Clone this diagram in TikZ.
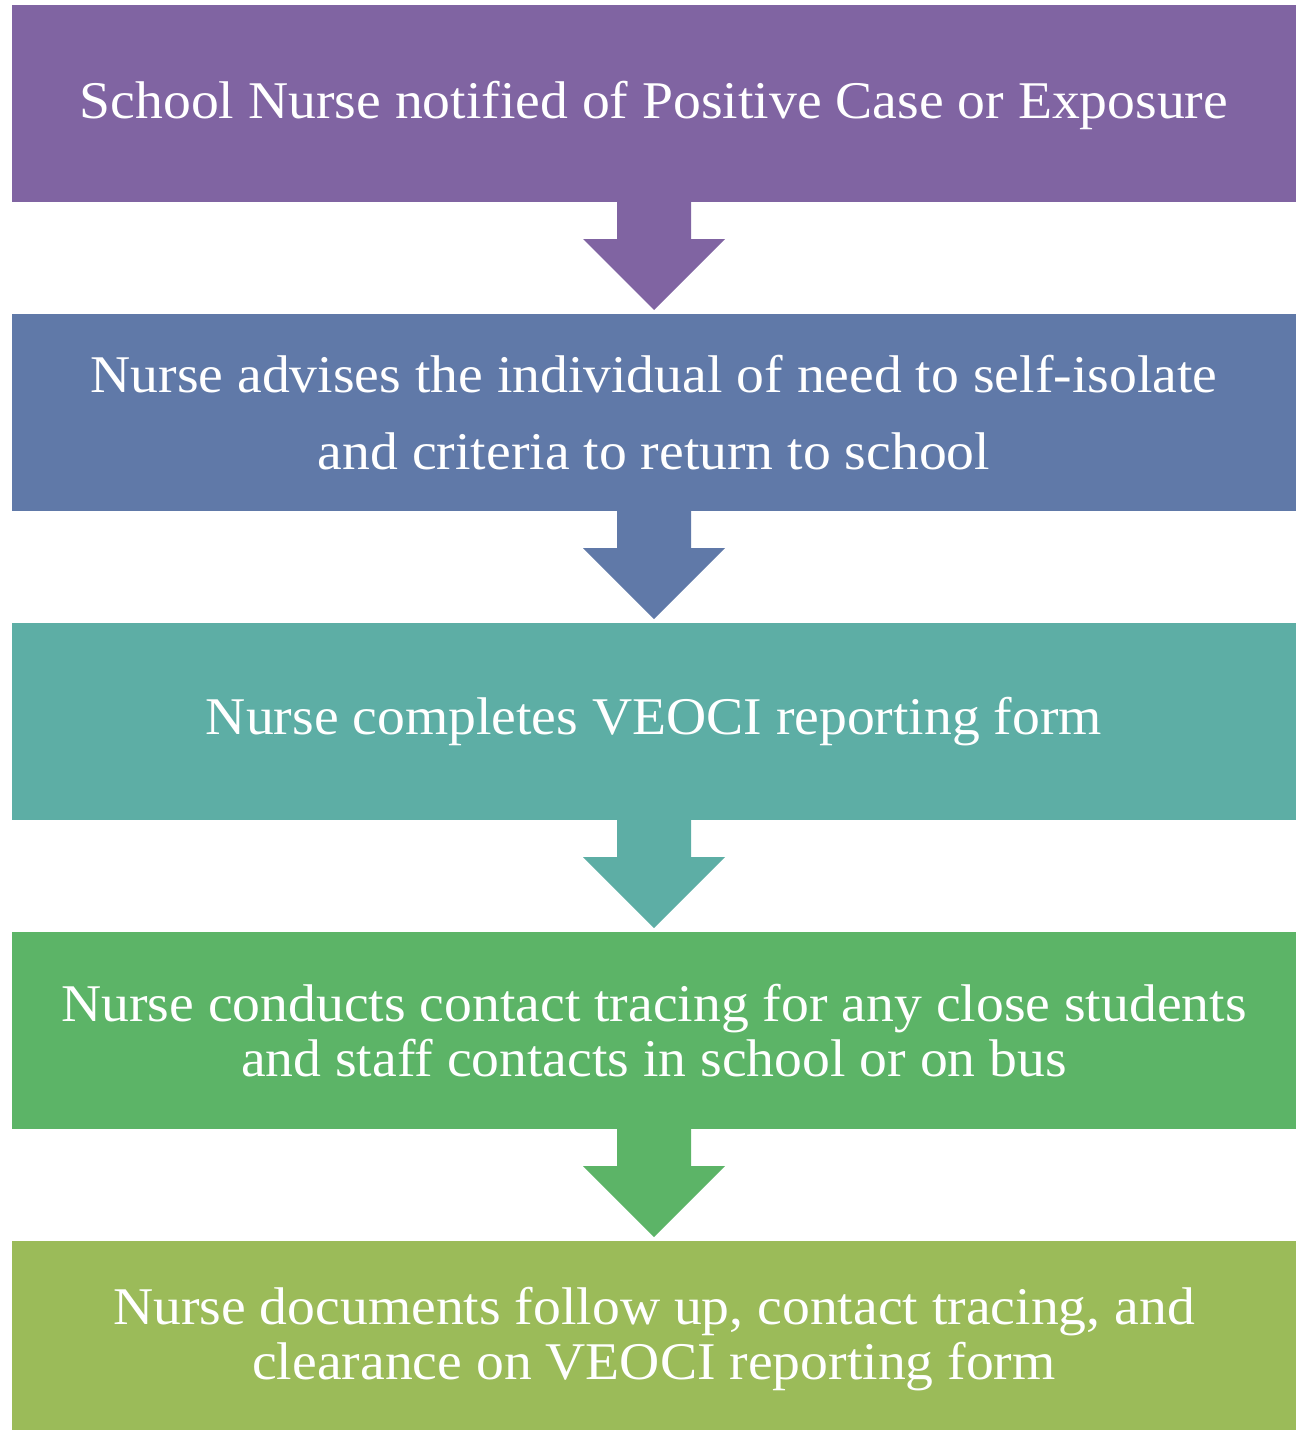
\documentclass[tikz,border=0pt]{standalone}
\usepackage{fontspec}
\setmainfont[FakeStretch=1.05]{Liberation Serif}
\usetikzlibrary{calc}
\definecolor{cA}{HTML}{8064A2}
\definecolor{cB}{HTML}{6079A8}
\definecolor{cC}{HTML}{5DAEA5}
\definecolor{cD}{HTML}{5CB467}
\definecolor{cE}{HTML}{9BBB59}
\tikzset{
  stepbox/.style={rectangle, minimum width=1284pt, minimum height=197pt, inner sep=0pt, outer sep=0pt, anchor=north west},
  steptext/.style={text=white, align=center, inner sep=0pt, font=\fontsize{53}{55}\selectfont},
}
\newcommand{\flowarrow}[3]{%
  \fill[#3] ($(#1.south)+(-37,0)$) -- ++(0,-37) -- ++(-34,0) -- ($(#2.north)+(0,4)$)
    -- ($(#1.south)+(71,-37)$) -- ++(-34,0) -- ($(#1.south)+(37,0)$) -- cycle;}
\begin{document}
\begin{tikzpicture}[x=1pt,y=1pt]
\useasboundingbox (0,0) rectangle (1296,-1430);
\begin{scope}
\clip (0,0) rectangle (1296,-1430);
\node[stepbox, fill=cA] (b1) at (12,-5) {};
\node[stepbox, fill=cB] (b2) at (12,-314) {};
\node[stepbox, fill=cC] (b3) at (12,-623) {};
\node[stepbox, fill=cD] (b4) at (12,-932) {};
\node[stepbox, fill=cE] (b5) at (12,-1241) {};
\end{scope}
\node[steptext, yshift=-2pt] (t1) at (b1.center) {School Nurse notified of Positive Case or Exposure};
\node[steptext, font=\fontsize{53}{77}\selectfont] (t2) at (b2.center) {Nurse advises the individual of need to self-isolate\\and criteria to return to school};
\node[steptext] (t3) at (b3.center) {Nurse completes VEOCI reporting form};
\node[steptext] (t4) at (b4.center) {Nurse conducts contact tracing for any close students\\and staff contacts in school or on bus};
\node[steptext] (t5) at (b5.center) {Nurse documents follow up, contact tracing, and\\clearance on VEOCI reporting form};
\flowarrow{b1}{b2}{cA}
\flowarrow{b2}{b3}{cB}
\flowarrow{b3}{b4}{cC}
\flowarrow{b4}{b5}{cD}
\end{tikzpicture}
\end{document}
